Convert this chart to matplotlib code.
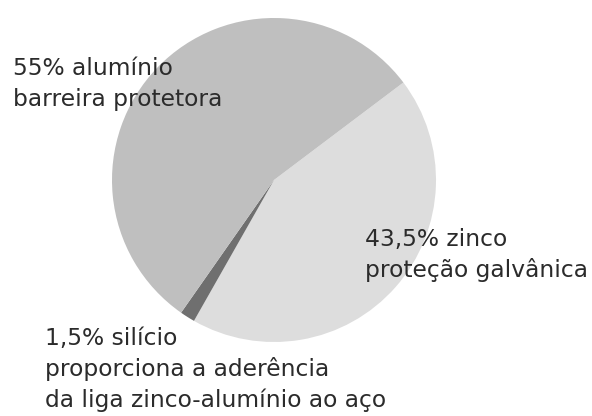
"""Composição da liga zinco-alumínio: gráfico de setores com rótulos ao lado."""

import matplotlib

matplotlib.use("Agg")
import matplotlib.pyplot as plt

# ── dados ─────────────────────────────────────────────────────────────────────

materials = ["zinco", "silício", "alumínio"]
shares = [43.5, 1.5, 55.0]
roles = [
  ["proteção galvânica"],
  ["proporciona a aderência", "da liga zinco-alumínio ao aço"],
  ["barreira protetora"],
]
slice_colors = ["#dddddd", "#6f6f6f", "#bfbfbf"]

# ── figura ────────────────────────────────────────────────────────────────────

W, H = 592, 416
DPI = 100
fig = plt.figure(figsize=(W / DPI, H / DPI), dpi=DPI)
fig.patch.set_facecolor("white")


def px_box(left, top, width, height):
  """Axes box from pixel coordinates measured from the top-left corner."""
  return [left / W, 1 - (top + height) / H, width / W, height / H]


cx, cy, r = 274, 180, 162
ax = fig.add_axes(px_box(cx - r, cy - r, 2 * r, 2 * r))
ax.pie(
  shares,
  colors=slice_colors,
  startangle=37,
  counterclock=False,
  radius=1.0,
  wedgeprops=dict(linewidth=0),
)
ax.set_xlim(-1, 1)
ax.set_ylim(-1, 1)
ax.set_aspect("equal")
ax.axis("off")


def pct(v):
  return f"{v:g}".replace(".", ",") + "%"


# posição (x, linha de base) da primeira linha de cada rótulo, em pixels
label_pos = {"zinco": (365, 246), "silício": (45, 345), "alumínio": (13, 75)}
line_step = 31

for name, value, extra in zip(materials, shares, roles):
  x, y = label_pos[name]
  lines = [f"{pct(value)} {name}"] + extra
  for i, line in enumerate(lines):
    fig.text(
      x / W, 1 - (y + i * line_step) / H, line,
      ha="left", va="baseline", fontsize=16.8, color="#2b2b2b",
      family="DejaVu Sans",
    )

fig.savefig("out.png", dpi=DPI, facecolor="white")
